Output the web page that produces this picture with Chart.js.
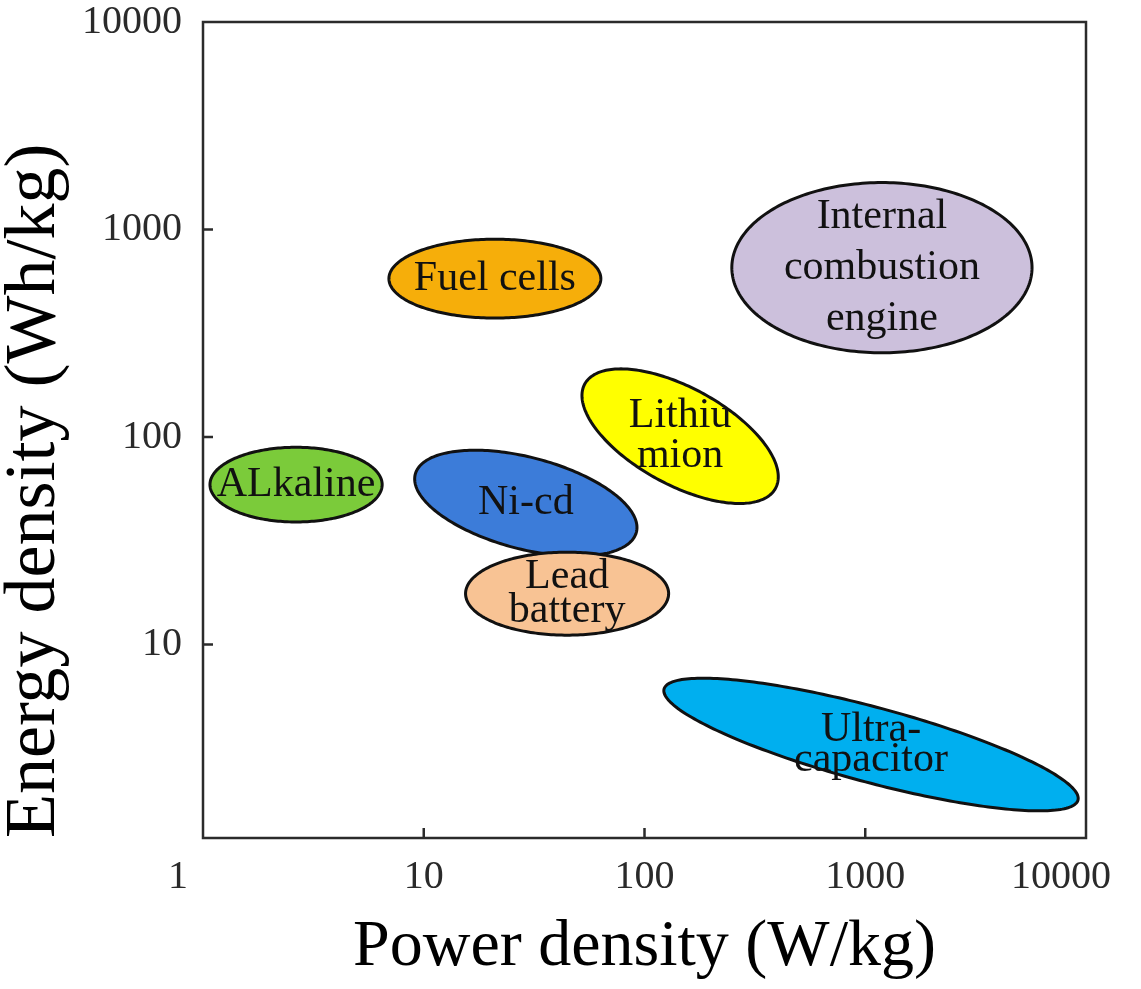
<!DOCTYPE html>
<html>
<head>
<meta charset="utf-8">
<title>Energy density vs power density</title>
<script src="https://cdn.jsdelivr.net/npm/chart.js@4.4.1/dist/chart.umd.min.js"></script>
<style>
  html, body { margin: 0; padding: 0; background: #fff; }
  #chart { display: block; }
</style>
</head>
<body>
<canvas id="chart" width="1141" height="989"></canvas>
<script>
// storage technologies, in drawing order (later ones sit on top)
const technologies = ["Fuel cells", "Internal combustion engine", "ALkaline", "Ni-cd", "Lead battery", "Lithium ion", "Ultra-capacitor"];
// centre of each region
const powerDensity = [21, 1190, 2.64, 29, 44.6, 145, 1062];   // W/kg
const energyDensity = [580, 655, 59, 48, 17.6, 101, 3.3];      // Wh/kg
// half extent of each region along its own axes, in decades
const spanMajor = [0.48, 0.68, 0.39, 0.52, 0.46, 0.50, 0.975];
const spanMinor = [0.19, 0.41, 0.18, 0.22, 0.20, 0.23, 0.18];
// tilt of the long axis in the log-log plane, degrees
const tilt = [0, 0, 0, -16, 0, -31, -16];
// text written inside each region, one entry per line
const regionText = [["Fuel cells"], ["Internal", "combustion", "engine"], ["ALkaline"], ["Ni-cd"], ["Lead", "battery"], ["Lithiu", "mion"], ["Ultra-", "capacitor"]];

const xTicks = [1, 10, 100, 1000, 10000];
const yTicks = [10, 100, 1000, 10000];

const fills = ["#F6AE0A", "#CCC0DC", "#7BCB3A", "#3C7CD9", "#F8C394", "#FFFF00", "#00AFEF"];
const lineGap = [0, 51, 0, 0, 34, 40, 30];
const serif = "'Liberation Serif', 'Times New Roman', serif";

// filled ellipses drawn through the log scales, with their names
const regionPlugin = {
  id: "regions",
  beforeDatasetsDraw(chart) {
    const { ctx, scales: { x, y } } = chart;
    ctx.save();
    technologies.forEach((name, i) => {
      const cu = Math.log10(powerDensity[i]);
      const cv = Math.log10(energyDensity[i]);
      const th = tilt[i] * Math.PI / 180;
      ctx.beginPath();
      for (let k = 0; k <= 240; k++) {
        const t = k / 240 * 2 * Math.PI;
        const du = spanMajor[i] * Math.cos(t);
        const dv = spanMinor[i] * Math.sin(t);
        const u = cu + du * Math.cos(th) - dv * Math.sin(th);
        const v = cv + du * Math.sin(th) + dv * Math.cos(th);
        const px = x.getPixelForValue(Math.pow(10, u));
        const py = y.getPixelForValue(Math.pow(10, v));
        if (k === 0) ctx.moveTo(px, py); else ctx.lineTo(px, py);
      }
      ctx.closePath();
      ctx.fillStyle = fills[i];
      ctx.fill();
      ctx.lineWidth = 3;
      ctx.strokeStyle = "#111";
      ctx.stroke();

      const cx = x.getPixelForValue(powerDensity[i]);
      const cy = y.getPixelForValue(energyDensity[i]);
      const lines = regionText[i];
      ctx.font = "42px " + serif;
      ctx.fillStyle = "#111";
      ctx.textAlign = "center";
      ctx.textBaseline = "middle";
      lines.forEach((s, j) => {
        ctx.fillText(s, cx, cy + (j - (lines.length - 1) / 2) * lineGap[i]);
      });
    });
    ctx.restore();
  },
  afterDraw(chart) {
    // box round the plot plus short inward tick marks
    const { ctx, chartArea: a, scales: { x, y } } = chart;
    ctx.save();
    ctx.strokeStyle = "#2b2b2b";
    ctx.lineWidth = 2.5;
    ctx.strokeRect(a.left, a.top, a.right - a.left, a.bottom - a.top);
    ctx.beginPath();
    xTicks.slice(1, -1).forEach(v => {
      const px = x.getPixelForValue(v);
      ctx.moveTo(px, a.bottom);
      ctx.lineTo(px, a.bottom - 10);
    });
    yTicks.slice(0, -1).forEach(v => {
      const py = y.getPixelForValue(v);
      ctx.moveTo(a.left, py);
      ctx.lineTo(a.left + 10, py);
    });
    ctx.stroke();
    ctx.restore();
  }
};

new Chart(document.getElementById("chart"), {
  type: "scatter",
  data: {
    datasets: [{
      label: "centres",
      data: powerDensity.map((p, i) => ({ x: p, y: energyDensity[i] })),
      pointRadius: 0,
      pointHoverRadius: 0
    }]
  },
  options: {
    responsive: false,
    animation: false,
    devicePixelRatio: 1,
    layout: { padding: { left: 0, top: 22, right: 55, bottom: 0 } },
    plugins: { legend: { display: false }, tooltip: { enabled: false } },
    scales: {
      x: {
        type: "logarithmic",
        min: 1,
        max: 10000,
        afterBuildTicks: s => { s.ticks = xTicks.map(v => ({ value: v })); },
        afterFit: s => {
          s.height = 151;
          s.paddingLeft = 0;
          s.paddingRight = 0;
        },
        grid: { display: false, drawTicks: false },
        border: { display: false },
        ticks: {
          font: { family: serif, size: 40 },
          color: "#2a2a2a",
          padding: 15,
          maxRotation: 0,
          autoSkip: false,
          // the end labels sit a little left of their ticks
          callback: (v, i) => (i === 0 || i === xTicks.length - 1) ? v + "     " : String(v)
        },
        title: {
          display: true,
          text: "Power density (W/kg)",
          color: "#000",
          font: { family: serif, size: 66, lineHeight: 1 },
          padding: { top: 0, bottom: 8 }
        }
      },
      y: {
        type: "logarithmic",
        min: 1.17,
        max: 10000,
        afterBuildTicks: s => { s.ticks = yTicks.map(v => ({ value: v })); },
        afterFit: s => {
          s.width = 203;
          s.paddingTop = 0;
          s.paddingBottom = 0;
        },
        grid: { display: false, drawTicks: false },
        border: { display: false },
        ticks: {
          font: { family: serif, size: 40 },
          color: "#2a2a2a",
          padding: 21,
          autoSkip: false,
          callback: v => String(v)
        },
        title: {
          display: true,
          text: "Energy density (Wh/kg)",
          align: "start",
          color: "#000",
          font: { family: serif, size: 72, lineHeight: 0.9 },
          padding: { top: 3, bottom: 0 }
        }
      }
    }
  },
  plugins: [regionPlugin]
});
</script>
</body>
</html>
